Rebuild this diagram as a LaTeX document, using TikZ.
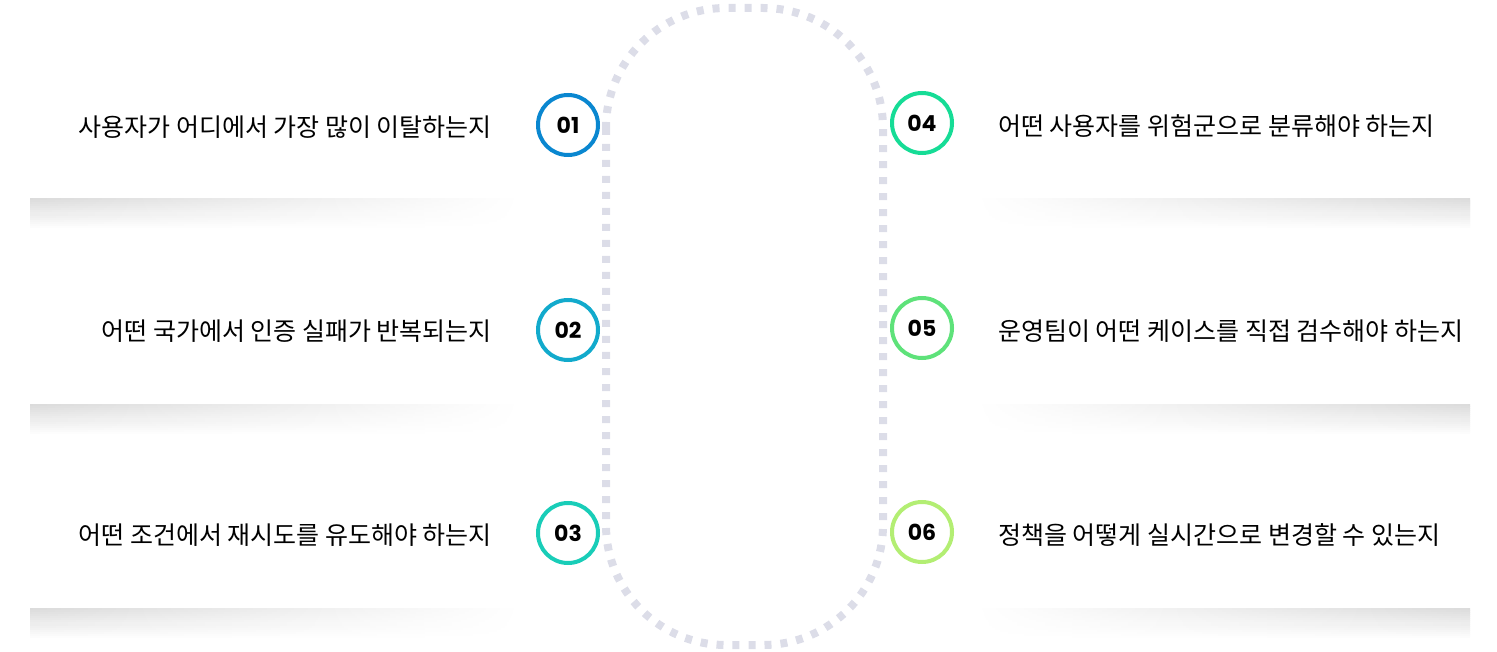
\documentclass[tikz,border=0pt]{standalone}
\usepackage{fontspec}
\setmainfont{Noto Sans CJK KR}
\newfontfamily\numfont{Poppins}
\definecolor{trk}{HTML}{DCDDE8}
\definecolor{cA}{HTML}{0A87D0}
\definecolor{cB}{HTML}{12AACC}
\definecolor{cC}{HTML}{19CDB8}
\definecolor{cD}{HTML}{16DC96}
\definecolor{cE}{HTML}{5EE27A}
\definecolor{cF}{HTML}{B3EE73}
\begin{document}
\begin{tikzpicture}[x=1pt,y=-1pt,
  num/.style={circle,draw=#1,line width=4pt,fill=white,minimum size=60pt,inner sep=0pt,font=\numfont\bfseries\fontsize{22}{22}\selectfont},
  qtxt/.style={font=\fontsize{25}{25}\selectfont,inner sep=0pt}]
\useasboundingbox (0,0) rectangle (1497,652);
\foreach \y in {199,404,608}{
  \foreach \i [evaluate=\i as \k using {int(14*(1-\i/16))}] in {0,...,15}{
    \fill[left color=black!\k,right color=white,draw=none] (30,\y+2*\i) rectangle (520,\y+2*\i+2.2);
    \fill[right color=black!\k,left color=white,draw=none] (975,\y+2*\i) rectangle (1470,\y+2*\i+2.2);
  }
}
\draw[trk,line width=8pt,dash pattern=on 7pt off 9pt,rounded corners=120pt] (606,8) rectangle (883,645);
\node[num=cA] (n1) at (568,125) {01};
\node[num=cB] (n2) at (568,330) {02};
\node[num=cC] (n3) at (568,533) {03};
\node[num=cD] (n4) at (922,123) {04};
\node[num=cE] (n5) at (922,328) {05};
\node[num=cF] (n6) at (922,532) {06};
\node[qtxt,anchor=east] (t1) at (492,127) {사용자가 어디에서 가장 많이 이탈하는지};
\node[qtxt,anchor=east] (t2) at (492,331) {어떤 국가에서 인증 실패가 반복되는지};
\node[qtxt,anchor=east] (t3) at (492,535) {어떤 조건에서 재시도를 유도해야 하는지};
\node[qtxt,anchor=west] (t4) at (998,126) {어떤 사용자를 위험군으로 분류해야 하는지};
\node[qtxt,anchor=west] (t5) at (998,331) {운영팀이 어떤 케이스를 직접 검수해야 하는지};
\node[qtxt,anchor=west] (t6) at (998,535) {정책을 어떻게 실시간으로 변경할 수 있는지};
\end{tikzpicture}
\end{document}
